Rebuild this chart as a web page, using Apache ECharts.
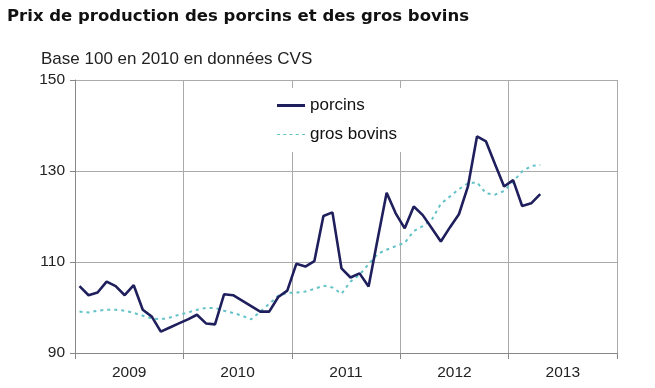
<!DOCTYPE html>
<html><head><meta charset="utf-8">
<script src="https://cdn.jsdelivr.net/npm/echarts@6/dist/echarts.min.js"></script>
<style>html,body{margin:0;padding:0;background:#fff}#c{width:655px;height:388px}</style>
</head><body><div id="c"></div>
<script>
var years = ['2009', '2010', '2011', '2012', '2013'];
var yTicks = [90, 110, 130, 150];
var porcins = [
  104.7, 102.7, 103.3, 105.7, 104.7, 102.7, 104.9, 99.5, 98.0, 94.7, 95.6, 96.5,
  97.4, 98.4, 96.5, 96.3, 102.9, 102.7, 101.5, 100.3, 99.1, 99.1, 102.3, 103.7,
  109.6, 109.0, 110.2, 120.1, 120.9, 108.6, 106.6, 107.5, 104.6, 115.0, 125.2, 120.7,
  117.4, 122.2, 120.3, 117.4, 114.5, 117.6, 120.5, 126.6, 137.6, 136.5, 131.5, 126.6,
  128.0, 122.3, 122.9, 124.9
];
var grosBovins = [
  99.1, 98.9, 99.3, 99.5, 99.5, 99.3, 98.8, 98.2, 97.6, 97.4, 97.8, 98.4,
  98.9, 99.5, 99.9, 99.9, 99.3, 98.8, 98.2, 97.4, 99.1, 100.8, 102.6, 103.2,
  103.3, 103.5, 104.1, 104.8, 104.4, 103.0, 105.7, 107.2, 109.5, 111.8, 112.7, 113.5,
  114.2, 116.8, 117.9, 119.3, 122.8, 124.4, 126.0, 127.3, 127.5, 125.1, 124.8, 125.6,
  127.7, 129.9, 131.1, 131.3
];
function toPts(arr){ return arr.map(function(v,i){ return [i + 0.5, v]; }); }
var chart = echarts.init(document.getElementById('c'));
chart.setOption({
  animation: false,
  backgroundColor: '#ffffff',
  title: [
    {text: 'Prix de production des porcins et des gros bovins', left: 2, top: 3,
     textStyle: {fontFamily: 'DejaVu Sans', fontWeight: 'bold', fontSize: 16.5, color: '#111'}},
    {text: 'Base 100 en 2010 en données CVS', left: 36, top: 46,
     textStyle: {fontFamily: 'Liberation Sans', fontWeight: 'normal', fontSize: 17, color: '#222'}}
  ],
  legend: {
    left: 243, top: 88, orient: 'vertical', itemGap: 12, itemWidth: 28, itemHeight: 14,
    backgroundColor: '#ffffff', padding: [9, 18, 9, 34],
    textStyle: {fontFamily: 'Liberation Sans', fontSize: 17, color: '#111'},
    data: [
      {name: 'porcins', icon: 'path://M0,6 L28,6 L28,9 L0,9 Z'},
      {name: 'gros bovins', icon: 'path://M0,7 L3,7 L3,8 L0,8 Z M6,7 L9,7 L9,8 L6,8 Z M12,7 L15,7 L15,8 L12,8 Z M18,7 L21,7 L21,8 L18,8 Z M24,7 L27,7 L27,8 L24,8 Z'}
    ]
  },
  grid: {left: 75, right: 38, top: 80, bottom: 35},
  xAxis: [
    {type: 'category', data: years, boundaryGap: true,
     axisLine: {show: true, lineStyle: {color: '#888', width: 1}},
     axisTick: {show: true, length: 6, lineStyle: {color: '#888'}},
     axisLabel: {fontFamily: 'Liberation Sans', fontSize: 15.5, color: '#222', margin: 12},
     splitLine: {show: true, lineStyle: {color: '#aaa', width: 1}}},
    {type: 'value', min: 0, max: 60, show: false}
  ],
  yAxis: {
    type: 'value', min: 90, max: 150, interval: 20,
    axisLine: {show: true, lineStyle: {color: '#888', width: 1}},
    axisTick: {show: true, length: 5, lineStyle: {color: '#888'}},
    axisLabel: {fontFamily: 'Liberation Sans', fontSize: 15.5, color: '#222', margin: 10,
      formatter: function(v){ return yTicks.indexOf(v) >= 0 ? String(v) : ''; }},
    splitLine: {show: true, lineStyle: {color: '#aaa', width: 1}}
  },
  series: [
    {name: 'porcins', type: 'line', xAxisIndex: 1, data: toPts(porcins), showSymbol: false,
     lineStyle: {color: '#1e1f5c', width: 2.6}, itemStyle: {color: '#1e1f5c'}, z: 3},
    {name: 'gros bovins', type: 'line', xAxisIndex: 1, data: toPts(grosBovins), showSymbol: false,
     lineStyle: {color: '#62c2c6', width: 2, type: [3, 4]}, itemStyle: {color: '#62c2c6'}, z: 2}
  ]
});
</script></body></html>
